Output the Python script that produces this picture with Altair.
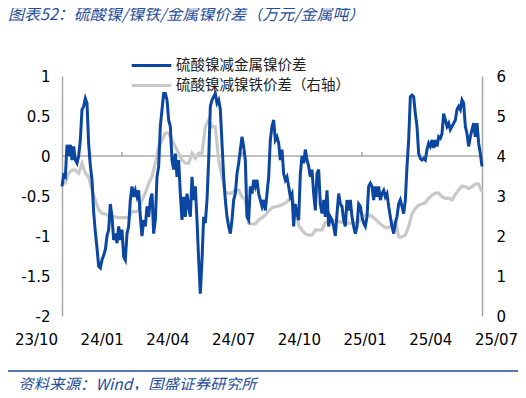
import altair as alt
import pandas as pd

# ---- data (months since 2023/10) ----
# left axis series, sampled every 1/12 month
blue_vals = [
    -0.38, -0.24, -0.26, 0.14, 0.0, 0.14, -0.05, 0.12, -0.05, -0.09,
    0.0, 0.2, 0.58, 0.62, 0.72, 0.66, 0.15, -0.12, -0.3, -0.7,
    -0.95, -1.15, -1.38, -1.4, -1.3, -1.24, -1.17, -1.0, -0.92, -0.6,
    -0.76, -1.05, -0.97, -1.09, -0.88, -1.05, -0.92, -1.26, -1.3, -0.97,
    -0.88, -0.55, -0.38, -0.51, -0.43, -0.51, -0.43, -0.76, -1.0, -0.8,
    -0.88, -0.63, -0.76, -0.55, -0.47, -0.97, -0.8, -0.26, -0.13, 0.37,
    0.58, 0.78, 0.78, 0.7, 0.45, 0.37, -0.05, -0.17, 0.03, -0.26,
    -0.05, -0.47, -0.8, -0.51, -0.76, -0.47, -0.63, -0.76, -0.26, -0.55,
    -0.38, -0.8, -1.3, -1.72, -1.3, -0.76, -0.84, -0.55, -0.05, 0.62,
    0.7, 0.74, 0.78, 0.66, 0.7, 0.58, 0.16, -0.26, -0.55, -0.76,
    -0.88, -0.97, -0.8, -0.55, -0.47, -0.22, -0.09, 0.08, 0.24, 0.12,
    -0.05, -0.76, -0.8, -0.38, -0.47, -0.3, -0.38, -0.3, -0.47, -0.55,
    -0.63, -0.55, -0.68, -0.47, -0.26, 0.2, 0.37, 0.45, 0.2, 0.24,
    0.16, -0.05,
    0.08, -0.22, -0.3, -0.26, -0.38, -0.51, -0.47, -0.88, -0.6, -0.72,
    -0.8, -0.22, 0.0, -0.09, 0.08, -0.05, -0.13, -0.26, -0.17, -0.47,
    -0.68, -0.22, -0.17, -0.6, -0.72, -0.55, -0.76, -0.43, -0.88, -0.76,
    -0.8, -0.88, -1.0, -0.72, -0.47, -0.6, -0.63, -0.8, -0.88, -0.55,
    -0.68, -0.55, -0.76, -0.88, -0.97, -0.88, -0.6, -0.63, -0.76, -0.84,
    -0.88, -0.76, -0.38, -0.34, -0.38, -0.55, -0.38, -0.51, -0.38, -0.55,
    -0.47, -0.43, -0.51, -0.47, -0.63, -0.76, -0.88, -0.97, -0.84, -0.76,
    -0.6, -0.55, -0.63, -0.72, -0.55, -0.13, 0.2, 0.74, 0.76, 0.74,
    0.53, 0.37, 0.03, -0.03, -0.05, -0.03, -0.05, 0.08, 0.16, 0.12,
    0.2, 0.1, 0.2, 0.12, 0.24, 0.22, 0.28, 0.53, 0.45, 0.37,
    0.41, 0.33, 0.37, 0.41, 0.45, 0.58, 0.62, 0.58, 0.7, 0.66,
    0.37, 0.28, 0.12, 0.24, 0.33, 0.41, 0.24, 0.41, 0.16, 0.03,
    -0.13,
]
# right axis series, sampled every 1/6 month
gray_vals = [
    3.32, 3.32, 3.57, 3.65, 3.65, 3.57, 3.82, 3.57, 3.48, 3.15,
    2.9, 2.65, 2.57, 2.55, 2.5, 2.48, 2.48, 2.46, 2.46, 2.46,
    2.46, 2.61, 2.61, 2.63, 2.9, 3.07, 3.32, 3.48, 3.82, 4.23,
    4.4, 4.57, 4.57, 4.4, 4.23, 4.07, 3.9, 3.82, 3.82, 4.07,
    3.94, 4.07, 4.07, 4.73, 4.9, 4.73, 4.73, 3.9, 3.48, 3.07,
    3.07, 3.07, 3.15, 3.15, 2.98, 2.9, 2.32, 2.3, 2.3, 2.4,
    2.46, 2.52, 2.63, 2.71, 2.73, 2.75, 2.78, 2.82, 2.9, 2.96,
    2.73, 2.27, 2.15, 2.05, 2.02, 2.02, 2.15, 2.15, 2.15, 2.34,
    2.38, 2.4, 2.38, 2.36, 2.34, 2.32, 2.32, 2.32, 2.32, 2.36,
    2.46, 2.52, 2.52, 2.5, 2.42, 2.34, 2.27, 2.21, 2.21, 2.27,
    2.4, 1.98, 1.98, 2.02, 2.23, 2.56, 2.69, 2.77, 2.8, 2.83,
    2.94, 3.02, 3.07, 3.07, 2.98, 2.94, 2.94, 2.9, 3.04, 3.15,
    3.25, 3.23, 3.19, 3.23, 3.3, 3.3, 3.1,
]
tick_labels = ["23/10", "24/01", "24/04", "24/07", "24/10", "25/01", "25/04", "25/07"]
label_months = [0, 3, 6, 9, 12, 15, 18, 21]
minor_tick_months = [3, 9, 15]
series_names = ["硫酸镍减金属镍价差", "硫酸镍减镍铁价差（右轴）"]
left_ticks = [-2, -1.5, -1, -0.5, 0, 0.5, 1]
right_ticks = [0, 1, 2, 3, 4, 5, 6]

BLUE = "#0B47A0"
GRAY = "#C8C8C8"
TITLE_BLUE = "#1F4E9C"
FONT_CJK = "Noto Sans CJK SC"
FONT_NUM = "DejaVu Sans"

blue_df = pd.DataFrame({"m": [i / 12 for i in range(len(blue_vals))], "v": blue_vals, "s": series_names[0]})
gray_df = pd.DataFrame({"m": [k / 6 for k in range(len(gray_vals))], "v": gray_vals, "s": series_names[1]})
label_df = pd.DataFrame({"lm": label_months, "v": [-2] * len(label_months)})

label_expr = "[" + ",".join(f"'{t}'" for t in tick_labels) + "][round(datum.value/3)]"
x_scale = alt.Scale(domain=[0, 21], nice=False, zero=False)
x_enc = alt.X("m:Q", scale=x_scale, axis=None)
# the date row in the reference is spread a little wider than the plot area
label_scale = alt.Scale(domain=[0, 21], range=[-26, 434], nice=False, zero=False)
lab_axis = alt.Axis(values=label_months, labelExpr=label_expr, domain=False, ticks=False, grid=False,
                    labelFont=FONT_NUM, labelFontSize=15, labelColor="black", labelPadding=16,
                    title=None, labelFlush=False, labelOverlap=False, labelBound=False, orient="bottom")

left_scale = alt.Scale(domain=[-2, 1], nice=False, zero=False)
right_scale = alt.Scale(domain=[0, 6], nice=False, zero=False)
axis_common = dict(grid=False, ticks=False, domainColor="#a6a6a6", domainWidth=1.5,
                   labelFont=FONT_NUM, labelFontSize=15, labelColor="black", title=None)
left_axis = alt.Axis(values=left_ticks, labelExpr="datum.value + ''", orient="left",
                     labelPadding=12, **axis_common)
right_axis = alt.Axis(values=right_ticks, labelExpr="datum.value + ''", orient="right",
                      labelPadding=14, **axis_common)

color = alt.Color("s:N", scale=alt.Scale(domain=series_names, range=[BLUE, GRAY]),
                  legend=alt.Legend(orient="none", legendX=79, legendY=-21, title=None,
                                    direction="vertical", symbolType="M-2.2,0H2.2", symbolSize=324,
                                    symbolStrokeWidth=3, labelFont=FONT_CJK, labelFontSize=14.5,
                                    labelColor="#222222", labelOffset=14, rowPadding=3,
                                    labelLimit=400))

label_row = alt.Chart(label_df).mark_point(opacity=0).encode(
    x=alt.X("lm:Q", scale=label_scale, axis=lab_axis),
    y=alt.Y("v:Q", scale=left_scale, axis=None))

zero_line = alt.Chart(pd.DataFrame({"v": [0]})).mark_rule(color="#808080", strokeWidth=1).encode(
    y=alt.Y("v:Q", scale=left_scale, axis=None))

ticks = alt.Chart(pd.DataFrame({"m": minor_tick_months, "v": [0] * 3, "v2": [0.05] * 3})).mark_rule(
    color="#808080", strokeWidth=1).encode(
    x=x_enc, y=alt.Y("v:Q", scale=left_scale, axis=None), y2="v2:Q")

gray_line = alt.Chart(gray_df).mark_line(strokeWidth=3.2).encode(
    x=x_enc, y=alt.Y("v:Q", scale=right_scale, axis=right_axis), color=color)

blue_line = alt.Chart(blue_df).mark_line(strokeWidth=3).encode(
    x=x_enc, y=alt.Y("v:Q", scale=left_scale, axis=left_axis), color=color)

footer_rule = alt.Chart(pd.DataFrame({"a": [0]})).mark_rule(color=TITLE_BLUE, strokeWidth=1.5).encode(
    x=alt.value(-62), x2=alt.value(464), y=alt.value(295))

footer_text = alt.Chart(pd.DataFrame({"a": [0]})).mark_text(
    align="left", baseline="middle", font=FONT_CJK, fontSize=15.5, fontStyle="italic",
    color=TITLE_BLUE).encode(
    x=alt.value(-44), y=alt.value(309), text=alt.value("资料来源：Wind，国盛证券研究所"))

chart = alt.layer(label_row, zero_line, ticks, gray_line, blue_line, footer_rule, footer_text).resolve_scale(
    x="independent", y="independent"
).properties(
    width=420, height=240,
    autosize=alt.AutoSizeParams(type="none"),
    padding={"left": 54, "top": 68, "right": 36, "bottom": 74},
    title=alt.TitleParams(text="图表52：硫酸镍/镍铁/金属镍价差（万元/金属吨）", anchor="start",
                          frame="group", dx=-54, offset=32, font=FONT_CJK, fontSize=16,
                          fontStyle="italic", fontWeight="normal", color=TITLE_BLUE),
).configure_view(stroke=None)

chart.save("out.html", embed_options={"renderer": "svg", "actions": False})
